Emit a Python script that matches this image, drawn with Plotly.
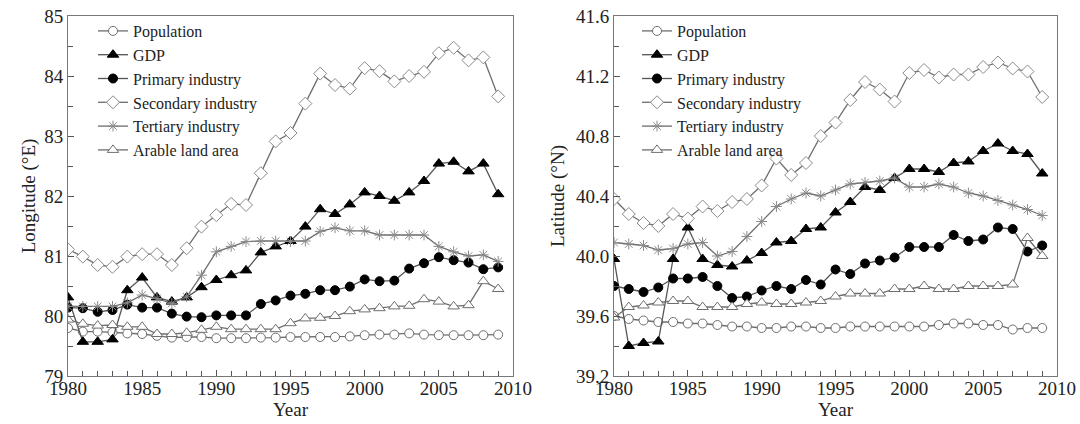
import plotly.graph_objects as go

years = list(range(1980, 2010))

# Left panel: mean centre longitude (°E)
lon_population = [79.80, 79.74, 79.74, 79.73, 79.71, 79.70, 79.67, 79.64, 79.65, 79.65,
                  79.63, 79.63, 79.63, 79.64, 79.64, 79.65, 79.65, 79.65, 79.65, 79.66,
                  79.68, 79.69, 79.69, 79.71, 79.69, 79.68, 79.68, 79.68, 79.68, 79.69]
lon_gdp = [80.31, 79.57, 79.57, 79.61, 80.43, 80.64, 80.31, 80.24, 80.31, 80.48,
           80.60, 80.68, 80.76, 81.06, 81.16, 81.25, 81.49, 81.78, 81.70, 81.86,
           82.06, 82.00, 81.92, 82.06, 82.25, 82.54, 82.57, 82.41, 82.54, 82.03]
lon_primary = [80.14, 80.13, 80.07, 80.10, 80.19, 80.14, 80.14, 80.04, 79.99, 79.98,
               80.01, 80.01, 80.01, 80.20, 80.26, 80.34, 80.37, 80.43, 80.43, 80.49,
               80.61, 80.58, 80.59, 80.79, 80.88, 80.98, 80.93, 80.89, 80.78, 80.81]
lon_secondary = [81.11, 80.99, 80.85, 80.82, 80.99, 81.03, 81.03, 80.85, 81.13, 81.49,
                 81.68, 81.87, 81.85, 82.38, 82.91, 83.05, 83.54, 84.04, 83.85, 83.79,
                 84.13, 84.08, 83.91, 84.00, 84.07, 84.38, 84.47, 84.26, 84.31, 83.66]
lon_tertiary = [80.16, 80.16, 80.16, 80.16, 80.22, 80.35, 80.29, 80.21, 80.32, 80.68,
                81.07, 81.16, 81.24, 81.25, 81.25, 81.24, 81.25, 81.41, 81.47, 81.42,
                81.42, 81.35, 81.35, 81.35, 81.35, 81.16, 81.07, 81.00, 81.02, 80.91]
lon_arable = [79.94, 79.87, 79.84, 79.85, 79.82, 79.82, 79.70, 79.70, 79.72, 79.77,
              79.82, 79.78, 79.78, 79.78, 79.78, 79.88, 79.96, 79.97, 80.00, 80.08,
              80.11, 80.13, 80.16, 80.17, 80.28, 80.24, 80.16, 80.18, 80.58, 80.45]

# Right panel: mean centre latitude (°N)
lat_population = [39.60, 39.58, 39.57, 39.56, 39.56, 39.55, 39.55, 39.54, 39.53, 39.53,
                  39.52, 39.52, 39.53, 39.53, 39.52, 39.52, 39.53, 39.53, 39.53, 39.53,
                  39.53, 39.53, 39.54, 39.55, 39.55, 39.54, 39.54, 39.51, 39.52, 39.52]
lat_gdp = [39.98, 39.40, 39.42, 39.43, 39.98, 40.19, 39.98, 39.94, 39.93, 39.97,
           40.02, 40.09, 40.10, 40.18, 40.19, 40.29, 40.36, 40.46, 40.44, 40.52,
           40.58, 40.58, 40.56, 40.62, 40.63, 40.70, 40.75, 40.70, 40.68, 40.55]
lat_primary = [39.80, 39.78, 39.76, 39.79, 39.85, 39.85, 39.86, 39.80, 39.72, 39.73,
               39.77, 39.80, 39.78, 39.84, 39.81, 39.91, 39.88, 39.95, 39.97, 39.99,
               40.06, 40.06, 40.06, 40.14, 40.10, 40.11, 40.19, 40.18, 40.03, 40.07]
lat_secondary = [40.38, 40.28, 40.22, 40.20, 40.28, 40.25, 40.33, 40.30, 40.36, 40.38,
                 40.47, 40.65, 40.54, 40.62, 40.80, 40.89, 41.04, 41.16, 41.11, 41.03,
                 41.22, 41.24, 41.19, 41.21, 41.21, 41.26, 41.29, 41.25, 41.23, 41.06]
lat_tertiary = [40.09, 40.08, 40.07, 40.04, 40.05, 40.08, 40.09, 40.00, 40.03, 40.13,
                40.23, 40.33, 40.38, 40.42, 40.40, 40.44, 40.48, 40.49, 40.50, 40.52,
                40.46, 40.46, 40.48, 40.46, 40.42, 40.40, 40.37, 40.34, 40.31, 40.27]
lat_arable = [39.59, 39.66, 39.67, 39.69, 39.70, 39.70, 39.66, 39.66, 39.66, 39.68,
              39.69, 39.68, 39.68, 39.69, 39.70, 39.73, 39.75, 39.75, 39.75, 39.78,
              39.78, 39.80, 39.78, 39.78, 39.80, 39.80, 39.80, 39.81, 40.12, 40.00]

names = ["Population", "GDP", "Primary industry", "Secondary industry",
         "Tertiary industry", "Arable land area"]

GRAY = "#6e6e6e"
styles = {
    "Population": dict(symbol="circle", size=9, color="white", line=dict(color=GRAY, width=1)),
    "GDP": dict(symbol="triangle-up", size=10, color="black", line=dict(color="black", width=1)),
    "Primary industry": dict(symbol="circle", size=9, color="black", line=dict(color="black", width=1)),
    "Secondary industry": dict(symbol="diamond", size=10, color="white", line=dict(color="#8a8a8a", width=1)),
    "Tertiary industry": dict(symbol="asterisk-open", size=9, color="#8a8a8a", line=dict(color="#8a8a8a", width=1)),
    "Arable land area": dict(symbol="triangle-up", size=10, color="white", line=dict(color=GRAY, width=1)),
}
line_colors = {"Population": GRAY, "GDP": "#555555", "Primary industry": "#555555",
               "Secondary industry": GRAY, "Tertiary industry": GRAY, "Arable land area": GRAY}

left_series = [lon_population, lon_gdp, lon_primary, lon_secondary, lon_tertiary, lon_arable]
right_series = [lat_population, lat_gdp, lat_primary, lat_secondary, lat_tertiary, lat_arable]

fig = go.Figure()
for name, vals in zip(names, left_series):
    fig.add_trace(go.Scatter(x=years, y=vals, name=name, mode="lines+markers",
                             line=dict(color=line_colors[name], width=1.3),
                             marker=styles[name], xaxis="x", yaxis="y", legend="legend"))
for name, vals in zip(names, right_series):
    fig.add_trace(go.Scatter(x=years, y=vals, name=name, mode="lines+markers",
                             line=dict(color=line_colors[name], width=1.3),
                             marker=styles[name], xaxis="x2", yaxis="y2", legend="legend2"))

FONT = "Liberation Serif"
W, H = 1080, 424


def px_x(p):
    return p / W


def px_y(p):
    return 1 - p / H


dom_y = [px_y(376), px_y(16)]

common_x = dict(range=[1980, 2010], dtick=5, tick0=1980, ticks="inside", ticklen=6,
                tickcolor="#555", showline=True, linecolor="#777", linewidth=1, mirror=True,
                showgrid=False, zeroline=False, automargin=False, ticklabelstandoff=-5,
                ticklabeloverflow="allow",
                minor=dict(dtick=1, ticks="inside", ticklen=5, tickcolor="#555"),
                tickfont=dict(family=FONT, size=19, color="#222"),
                title=dict(text="Year", font=dict(family=FONT, size=19, color="#222"), standoff=0))
common_y = dict(ticks="inside", ticklen=6, tickcolor="#555", showline=True, linecolor="#777",
                linewidth=1, mirror=True, showgrid=False, zeroline=False, automargin=False,
                ticklabeloverflow="allow",
                tickfont=dict(family=FONT, size=19, color="#222"))

fig.update_layout(
    width=W, height=H, margin=dict(l=0, r=0, t=0, b=0),
    paper_bgcolor="white", plot_bgcolor="white",
    font=dict(family=FONT, size=19, color="#222"),
    xaxis=dict(common_x, domain=[px_x(68), px_x(513)], anchor="y"),
    yaxis=dict(common_y, domain=dom_y, range=[79, 85], dtick=1, anchor="x",
               minor=dict(dtick=0.5, ticks="inside", ticklen=5, tickcolor="#555"),
               title=dict(text="Longitude (°E)", font=dict(family=FONT, size=19, color="#222"), standoff=3)),
    xaxis2=dict(common_x, domain=[px_x(614), px_x(1057)], anchor="y2"),
    yaxis2=dict(common_y, domain=dom_y, range=[39.2, 41.6], dtick=0.4, tick0=39.2, tickformat=".1f",
                anchor="x2",
                minor=dict(dtick=0.2, ticks="inside", ticklen=5, tickcolor="#555"),
                title=dict(text="Latitude (°N)", font=dict(family=FONT, size=19, color="#222"), standoff=6)),
    legend=dict(x=px_x(93), y=px_y(14), xanchor="left", yanchor="top", bgcolor="rgba(0,0,0,0)",
                font=dict(family=FONT, size=16, color="#222"), tracegroupgap=0),
    legend2=dict(x=px_x(637), y=px_y(14), xanchor="left", yanchor="top", bgcolor="rgba(0,0,0,0)",
                 font=dict(family=FONT, size=16, color="#222"), tracegroupgap=0),
    showlegend=True,
)

# Remove the browser's default 8 px body margin so the figure fills the window exactly.
fig.write_html("out.html", config={"displayModeBar": False},
               post_script="document.body.style.margin='0';")
